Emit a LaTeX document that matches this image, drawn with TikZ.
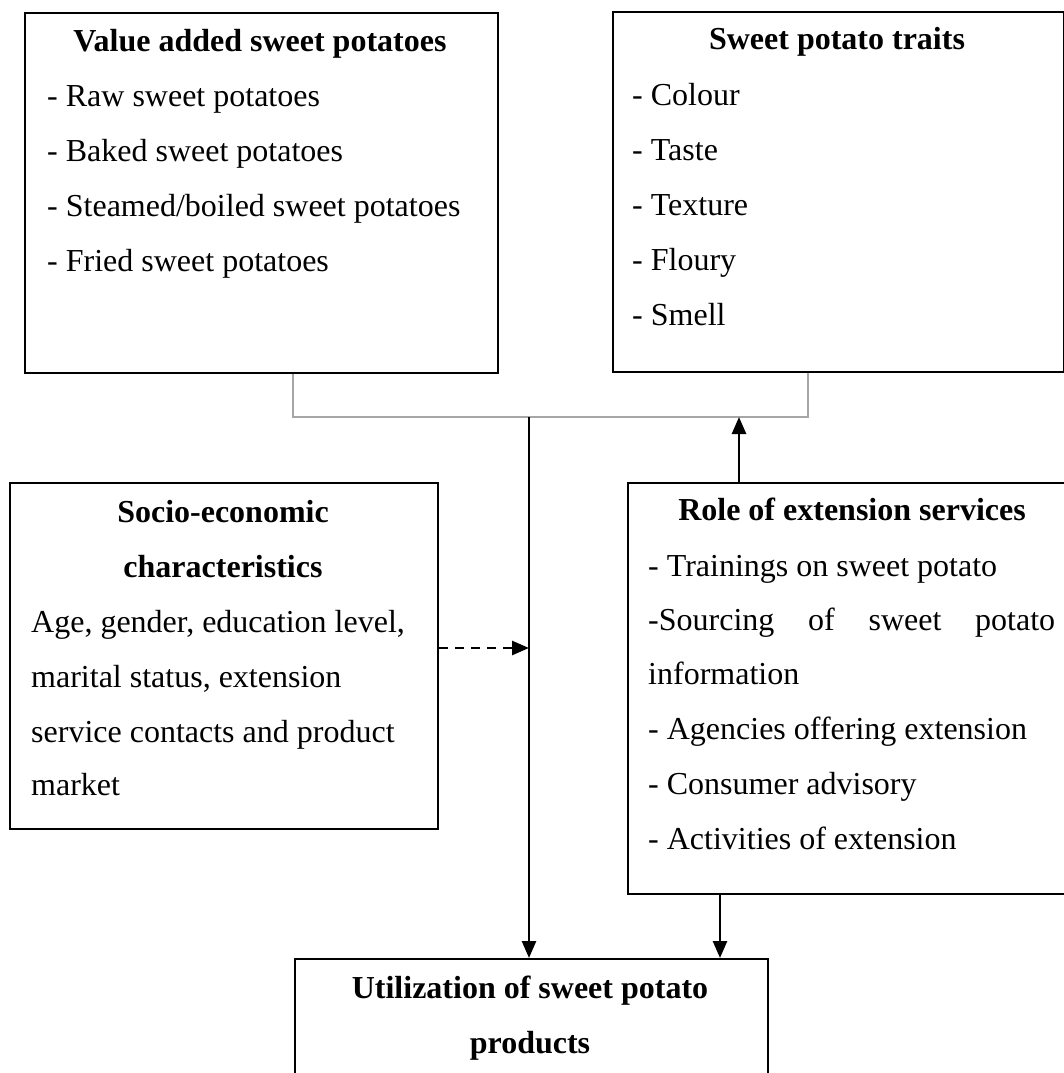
\documentclass[tikz,border=0pt]{standalone}
\usepackage{fontspec}
\setmainfont{Liberation Serif}
\usetikzlibrary{arrows.meta}
\begin{document}
\begin{tikzpicture}[x=1pt,y=-1pt,
  box/.style={draw=black, line width=1.8pt, anchor=north west, inner sep=0pt},
  ttl/.style={anchor=base, inner sep=0pt, font=\fontsize{32}{38}\selectfont\bfseries},
  itm/.style={anchor=base west, inner sep=0pt, font=\fontsize{32}{38}\selectfont},
  conn/.style={draw=gray!70, line width=1.1pt},
  arr/.style={draw=black, line width=2.6pt, -{Triangle[length=17pt,width=14pt]}},
  darr/.style={arr, dash pattern=on 9pt off 7pt}
]
\useasboundingbox (0,0) rectangle (1064,1073);
\clip (0,0) rectangle (1064,1073);
% boxes
\node[box, minimum width=473pt, minimum height=360pt] (b1) at (24,12) {};
\node[box, minimum width=451pt, minimum height=360pt] (b2) at (612,11) {};
\node[box, minimum width=428pt, minimum height=346pt] (b3) at (9,482) {};
\node[box, minimum width=450pt, minimum height=411pt] (b4) at (627,482) {};
\node[box, minimum width=473pt, minimum height=150pt] (b5) at (294,958) {};
% texts box 1
\node[ttl] (t1) at (260,52) {Value added sweet potatoes};
\node[itm] (t1a) at (47,106) {- Raw sweet potatoes};
\node[itm] (t1b) at (47,161) {- Baked sweet potatoes};
\node[itm] (t1c) at (47,216) {- Steamed/boiled sweet potatoes};
\node[itm] (t1d) at (47,271) {- Fried sweet potatoes};
% box 2
\node[ttl] (t2) at (837,50) {Sweet potato traits};
\node[itm] (t2a) at (632,105) {- Colour};
\node[itm] (t2b) at (632,160) {- Taste};
\node[itm] (t2c) at (632,215) {- Texture};
\node[itm] (t2d) at (632,270) {- Floury};
\node[itm] (t2e) at (632,325) {- Smell};
% box 3
\node[ttl] (t3) at (223,522) {Socio-economic};
\node[ttl] (t3x) at (223,577) {characteristics};
\node[itm] (t3a) at (31,632) {Age, gender, education level,};
\node[itm] (t3b) at (31,687) {marital status, extension};
\node[itm] (t3c) at (31,742) {service contacts and product};
\node[itm] (t3d) at (31,795) {market};
% box 4
\node[ttl] (t4) at (852,520) {Role of extension services};
\node[itm] (t4a) at (648,576) {- Trainings on sweet potato};
\node[itm] (t4b) at (648,630) {\makebox[407pt][s]{-Sourcing\hfill of\hfill sweet\hfill potato}};
\node[itm] (t4c) at (648,684) {information};
\node[itm] (t4d) at (648,739) {- Agencies offering extension};
\node[itm] (t4e) at (648,794) {- Consumer advisory};
\node[itm] (t4f) at (648,849) {- Activities of extension};
% box 5
\node[ttl] (t5) at (530,998) {Utilization of sweet potato};
\node[ttl] (t5x) at (530,1053) {products};
% connectors
\coordinate (j) at (529,417);
\coordinate (p1) at (293,0);
\coordinate (p2) at (808,0);
\coordinate (p3) at (739,0);
\coordinate (p4) at (720,0);
\coordinate (dy) at (0,648);
\draw[conn] (b1.south -| p1) -- (p1 |- j) -- (p2 |- j) -- (b2.south -| p2);
\draw[arr] (j) -- (j |- b5.north);
\draw[arr] (b4.north -| p3) -- (p3 |- j);
\draw[arr] (b4.south -| p4) -- (b5.north -| p4);
\draw[darr] (b3.east |- dy) -- (j |- dy);
\end{tikzpicture}
\end{document}
